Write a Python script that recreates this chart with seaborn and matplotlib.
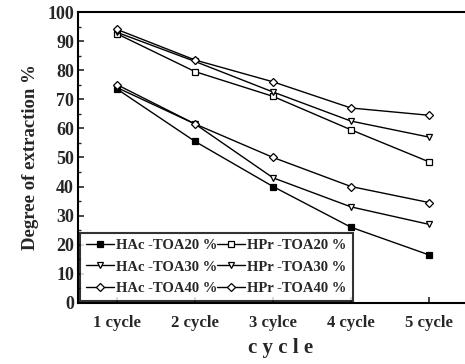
import matplotlib
matplotlib.use("Agg")
import matplotlib.pyplot as plt
import seaborn as sns
import pandas as pd
from matplotlib.ticker import MultipleLocator

cycles = [1, 2, 3, 4, 5]
cycle_labels = ["1 cycle", "2 cycle", "3 cylce", "4 cycle", "5 cycle"]
hac_20 = [73.5, 55.5, 40.0, 26.0, 16.5]
hac_30 = [74.0, 61.5, 43.0, 33.0, 27.0]
hac_40 = [75.0, 61.5, 50.0, 40.0, 34.5]
hpr_20 = [92.5, 79.5, 71.0, 59.5, 48.5]
hpr_30 = [93.0, 83.0, 72.5, 62.5, 57.0]
hpr_40 = [94.0, 83.5, 76.0, 67.0, 64.5]
series_names = ["HAc -TOA20 %", "HAc -TOA30 %", "HAc -TOA40 %",
                "HPr -TOA20 %", "HPr -TOA30 %", "HPr -TOA40 %"]
series_values = [hac_20, hac_30, hac_40, hpr_20, hpr_30, hpr_40]

sns.set_style("ticks")
plt.rcParams['font.family'] = ['Liberation Serif', 'DejaVu Serif']
plt.rcParams['font.weight'] = 'bold'

rows = []
for name, vals in zip(series_names, series_values):
    for c, v in zip(cycles, vals):
        rows.append({"cycle": c, "value": v, "series": name})
df = pd.DataFrame(rows)

fig = plt.figure(figsize=(4.65, 3.64), dpi=100)
ax = fig.add_axes([0.168, 0.168, 0.87, 0.799])

markers = {"HAc -TOA20 %": "s", "HAc -TOA30 %": "v", "HAc -TOA40 %": "D",
           "HPr -TOA20 %": "s", "HPr -TOA30 %": "v", "HPr -TOA40 %": "D"}
fill = {"HAc -TOA20 %": "black"}

for name in series_names:
    sub = df[df["series"] == name]
    sns.lineplot(data=sub, x="cycle", y="value", ax=ax, color="black",
                 marker=markers[name], markersize=5 if markers[name] != "D" else 4.5,
                 markerfacecolor=fill.get(name, "white"), markeredgecolor="black",
                 markeredgewidth=0.9, linewidth=1.0, label=name)

ax.set_xlim(0.5, 5.69)
ax.set_ylim(0, 100)
ax.set_xticks(cycles)
ax.set_xticklabels(cycle_labels, fontsize=12, fontweight='bold')
ax.yaxis.set_major_locator(MultipleLocator(10))
ax.yaxis.set_minor_locator(MultipleLocator(5))
for lab in ax.get_yticklabels():
    lab.set_fontsize(13)
    lab.set_fontweight('bold')
ax.tick_params(axis='x', direction='in', width=1.2, length=4, pad=9)
ax.tick_params(axis='y', direction='in', width=1.2, length=4, pad=3)
ax.tick_params(axis='y', which='minor', direction='in', width=1, length=2.5)
for s in ["left", "bottom", "top"]:
    ax.spines[s].set_linewidth(1.5)
    ax.spines[s].set_color("black")
ax.spines["right"].set_visible(False)

ax.set_xlabel("c y c l e", fontsize=15, fontweight='bold', labelpad=5)
ax.set_ylabel("Degree of extraction %", fontsize=13.5, fontweight='bold', labelpad=6)

leg = ax.legend(loc="lower left", ncol=2, frameon=True,
                fancybox=False, edgecolor="black", handlelength=1.9,
                handletextpad=0.15, columnspacing=0.0, labelspacing=0.55,
                borderpad=0.4, borderaxespad=0.15, prop={'weight': 'bold', 'size': 10.5})
leg.get_frame().set_linewidth(1.5)

fig.savefig("out.png", dpi=100)
